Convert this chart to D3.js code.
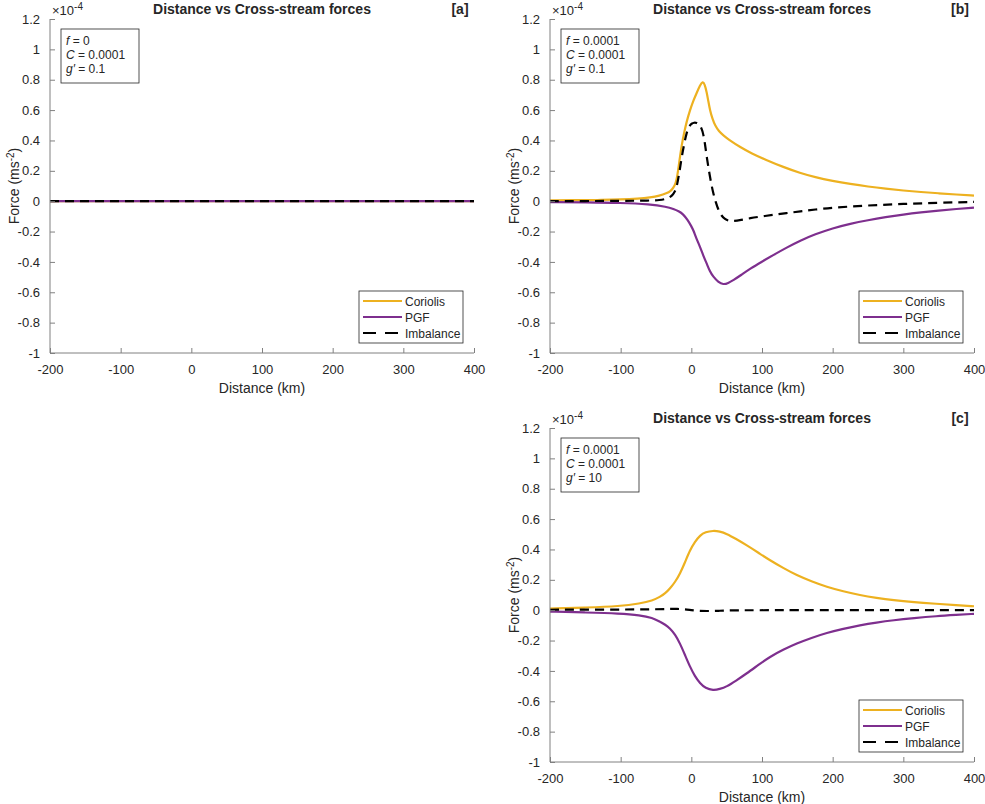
<!DOCTYPE html>
<html>
<head>
<meta charset="utf-8">
<script src="https://cdn.jsdelivr.net/npm/d3@7"></script>
<style>
  body { margin: 0; background: #fff; }
  text { font-family: "Liberation Sans", Arial, sans-serif; fill: #262626; }
</style>
</head>
<body>
<div id="chart"></div>
<script>
// data (force in units of 1e-4 m s^-2, distance in km)
const xTicks = [-200, -100, 0, 100, 200, 300, 400]
const yTicks = [-1, -0.8, -0.6, -0.4, -0.2, 0, 0.2, 0.4, 0.6, 0.8, 1, 1.2]
const seriesNames = ['Coriolis', 'PGF', 'Imbalance']

// panel a: f = 0, everything sits on zero
const distA = [-200, 400]
const coriolisA = [0, 0]
const pgfA = [0, 0]
const imbalanceA = [0, 0]

// panel b: f = 0.0001, g' = 0.1
const distCorB = [-200, -150, -129, -100, -75, -58, -45, -35, -29, -25.5, -22, -20, -17, -13.7, -10, -6.6, -2, 2.8, 8, 12.3, 16, 19, 21.7, 24, 26.4, 30, 33.5, 39, 45.3, 55, 68.9, 85, 106.6, 130, 154, 175, 200, 225, 250, 275, 300, 325, 350, 375, 400]
const coriolisB = [0.006, 0.007, 0.008, 0.011, 0.017, 0.025, 0.036, 0.052, 0.068, 0.087, 0.12, 0.16, 0.26, 0.37, 0.455, 0.525, 0.598, 0.662, 0.718, 0.763, 0.79, 0.77, 0.719, 0.66, 0.599, 0.54, 0.5, 0.46, 0.434, 0.398, 0.357, 0.315, 0.27, 0.225, 0.185, 0.158, 0.133, 0.113, 0.096, 0.082, 0.07, 0.06, 0.052, 0.044, 0.037]
const distPgfB = [-200, -150, -100, -58.5, -35, -25, -18, -11.6, -5, 0, 2.8, 7, 12.3, 17, 21.7, 26, 31, 38, 45.3, 52, 59.4, 70, 83, 100, 116, 135, 154, 175, 200, 225, 250, 275, 300, 325, 350, 375, 400]
const pgfB = [-0.006, -0.008, -0.011, -0.02, -0.037, -0.052, -0.066, -0.085, -0.125, -0.165, -0.19, -0.245, -0.3, -0.36, -0.41, -0.46, -0.498, -0.532, -0.55, -0.54, -0.52, -0.488, -0.445, -0.398, -0.355, -0.305, -0.26, -0.218, -0.178, -0.148, -0.125, -0.105, -0.088, -0.074, -0.062, -0.051, -0.042]
const distImbB = [-200, -150, -100, -58, -45, -35, -29, -25.5, -22, -19.9, -16.5, -13.7, -10, -6.6, -3, 0.4, 4, 7.5, 11, 14.6, 17, 19.3, 21.5, 24, 27.5, 31, 34.5, 38.2, 42.5, 47.6, 53, 59.4, 70, 83, 100, 116, 135, 154, 175, 200, 250, 300, 350, 400]
const imbalanceB = [0, 0.001, 0.002, 0.004, 0.007, 0.015, 0.03, 0.046, 0.075, 0.112, 0.2, 0.29, 0.38, 0.454, 0.495, 0.512, 0.518, 0.517, 0.505, 0.48, 0.44, 0.38, 0.3, 0.227, 0.13, 0.052, -0.005, -0.057, -0.095, -0.119, -0.13, -0.132, -0.124, -0.112, -0.1, -0.09, -0.078, -0.068, -0.055, -0.042, -0.028, -0.018, -0.01, -0.005]

// panel c: f = 0.0001, g' = 10
const distC = [-200, -150, -101, -72.6, -55, -44.3, -37, -30.2, -23, -16, -9, -1.9, 5, 12.3, 20, 31, 40, 50, 63, 78.3, 95, 111, 130, 149, 170, 191.5, 215, 238.7, 262, 285.8, 315, 347, 375, 400]
const coriolisC = [0.011, 0.017, 0.026, 0.044, 0.063, 0.088, 0.11, 0.143, 0.185, 0.241, 0.315, 0.395, 0.45, 0.493, 0.515, 0.524, 0.519, 0.504, 0.47, 0.428, 0.378, 0.329, 0.278, 0.23, 0.19, 0.153, 0.124, 0.099, 0.081, 0.066, 0.053, 0.042, 0.033, 0.026]
const pgfC = [-0.009, -0.015, -0.022, -0.033, -0.05, -0.077, -0.095, -0.12, -0.16, -0.219, -0.295, -0.373, -0.435, -0.482, -0.514, -0.528, -0.52, -0.504, -0.465, -0.417, -0.36, -0.307, -0.26, -0.219, -0.182, -0.149, -0.122, -0.099, -0.081, -0.066, -0.052, -0.039, -0.031, -0.024]
const distImbC = [-200, -100, -50, -30, -20, -10, 0, 10, 25, 40, 55, 80, 400]
const imbalanceC = [0.003, 0.004, 0.006, 0.008, 0.009, 0.006, 0, -0.005, -0.006, -0.004, -0.001, 0, 0]

const params = [
  ['0', '0.0001', '0.1'],
  ['0.0001', '0.0001', '0.1'],
  ['0.0001', '0.0001', '10'],
]

// colours
const colors = ['#EDB120', '#7E2F8E', '#000000']

// size
const W = 985
const H = 804
const pw = 424
const ph = 334

const x = d3.scaleLinear().domain([-200, 400]).range([0, pw])
const y = d3.scaleLinear().domain([-1, 1.2]).range([ph, 0])

const svg = d3
  .select('#chart')
  .append('svg')
  .attr('width', W)
  .attr('height', H)

const zip = (xs, ys) => xs.map((d, i) => [d, ys[i]])

function drawPanel(left, top, tag, p, series) {
  const g = svg.append('g').attr('transform', `translate(${left}, ${top})`)

  // lines
  const line = d3
    .line()
    .x(d => x(d[0]))
    .y(d => y(d[1]))
    .curve(d3.curveBasis)

  series.forEach((pts, i) => {
    g.append('path')
      .datum(pts)
      .attr('fill', 'none')
      .attr('stroke', colors[i])
      .attr('stroke-width', 2.2)
      .attr('stroke-dasharray', i === 2 ? '9,6' : null)
      .attr('d', line)
  })

  // y-axis
  const yAxis = g
    .append('g')
    .call(
      d3
        .axisLeft(y)
        .tickValues(yTicks)
        .tickSize(-5)
        .tickPadding(10)
        .tickFormat(d3.format('~g')),
    )
  // x-axis
  const xAxis = g
    .append('g')
    .attr('transform', `translate(0, ${ph})`)
    .call(d3.axisBottom(x).tickValues(xTicks).tickSize(-5).tickPadding(12))

  ;[yAxis, xAxis].forEach(a => {
    a.select('.domain').attr('stroke', '#808080')
    a.selectAll('.tick line').attr('stroke', '#808080')
    a.selectAll('text')
      .attr('font-size', '13px')
      .attr('fill', '#262626')
      .attr('font-family', '"Liberation Sans", Arial, sans-serif')
  })
  yAxis.select('.domain').attr('d', `M0,${ph}V0`)
  xAxis.select('.domain').attr('d', `M0,0H${pw}`)
  yAxis.selectAll('.tick text').text(d => (d < 0 ? '-' + Math.abs(d) : d))
  xAxis.selectAll('.tick text').text(d => (d < 0 ? '-' + Math.abs(d) : d))

  // exponent
  const ex = g.append('text').attr('x', 2).attr('y', -4).attr('font-size', '13px')
  ex.append('tspan').text('\u00d710')
  ex.append('tspan').attr('dy', -5).attr('font-size', '10px').text('-4')

  // title + tag
  g.append('text')
    .attr('x', pw / 2)
    .attr('y', -5)
    .attr('text-anchor', 'middle')
    .attr('font-weight', 'bold')
    .attr('font-size', '14px')
    .attr('fill', '#000')
    .text('Distance vs Cross-stream forces')
  g.append('text')
    .attr('x', pw - 14)
    .attr('y', -5)
    .attr('text-anchor', 'middle')
    .attr('font-weight', 'bold')
    .attr('font-size', '14px')
    .attr('fill', '#000')
    .text(`[${tag}]`)

  // axis labels
  g.append('text')
    .attr('x', pw / 2)
    .attr('y', ph + 40)
    .attr('text-anchor', 'middle')
    .attr('font-size', '14px')
    .text('Distance (km)')
  const yl = g
    .append('text')
    .attr('text-anchor', 'middle')
    .attr('font-size', '14px')
    .attr('transform', `translate(-31, ${ph / 2}) rotate(-90)`)
  yl.append('tspan').text('Force (ms')
  yl.append('tspan').attr('dy', -5).attr('font-size', '10px').text('-2')
  yl.append('tspan').attr('dy', 5).text(')')

  // parameter box
  const pb = g.append('g').attr('transform', 'translate(11, 10)')
  pb.append('rect')
    .attr('width', 78)
    .attr('height', 54)
    .attr('fill', '#fff')
    .attr('stroke', '#262626')
    .attr('stroke-width', 0.8)
  const labels = [['f', p[0]], ['C', p[1]], ['g\u2032', p[2]]]
  labels.forEach((l, i) => {
    const t = pb
      .append('text')
      .attr('x', 5)
      .attr('y', 16 + i * 14)
      .attr('font-size', '12px')
      .attr('fill', '#000')
    t.append('tspan').attr('font-style', 'italic').text(l[0])
    t.append('tspan').text(` = ${l[1]}`)
  })

  // legend
  const lg = g.append('g').attr('transform', `translate(${pw - 115}, ${ph - 62})`)
  lg.append('rect')
    .attr('width', 104)
    .attr('height', 52)
    .attr('fill', '#fff')
    .attr('stroke', '#262626')
    .attr('stroke-width', 0.8)
  seriesNames.forEach((s, i) => {
    lg.append('line')
      .attr('x1', 4)
      .attr('x2', 43)
      .attr('y1', 10 + i * 16)
      .attr('y2', 10 + i * 16)
      .attr('stroke', colors[i])
      .attr('stroke-width', 2.2)
      .attr('stroke-dasharray', i === 2 ? '13,9' : null)
    lg.append('text')
      .attr('x', 46)
      .attr('y', 14.5 + i * 16)
      .attr('font-size', '12px')
      .attr('fill', '#000')
      .text(s)
  })
}

drawPanel(50, 19, 'a', params[0], [
  zip(distA, coriolisA),
  zip(distA, pgfA),
  zip(distA, imbalanceA),
])
drawPanel(550, 19, 'b', params[1], [
  zip(distCorB, coriolisB),
  zip(distPgfB, pgfB),
  zip(distImbB, imbalanceB),
])
drawPanel(550, 428, 'c', params[2], [
  zip(distC, coriolisC),
  zip(distC, pgfC),
  zip(distImbC, imbalanceC),
])
</script>
</body>
</html>
